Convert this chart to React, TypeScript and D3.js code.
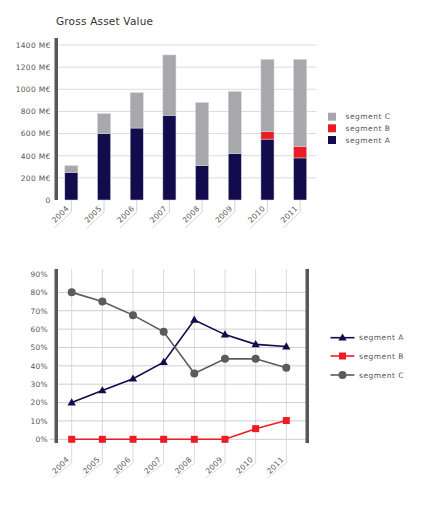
import React from "react";
import * as d3 from "d3";

const years = ["2004", "2005", "2006", "2007", "2008", "2009", "2010", "2011"];
const gavA = [250, 600, 650, 765, 310, 420, 550, 380];
const gavB = [0, 0, 0, 0, 0, 0, 70, 105];
const gavC = [60, 180, 320, 545, 570, 560, 650, 785];
const gavTicks = [0, 200, 400, 600, 800, 1000, 1200, 1400];

const pctA = [20, 26.6, 33, 42, 65, 57, 51.7, 50.5];
const pctB = [0, 0, 0, 0, 0, 0, 5.8, 10.2];
const pctC = [80, 75, 67.6, 58.5, 35.8, 43.8, 43.8, 38.9];
const pctTicks = [0, 10, 20, 30, 40, 50, 60, 70, 80, 90];

const colA = "#120c4c";
const colB = "#ec1c24";
const colCbar = "#a7a8ab";
const colCline = "#5b5b5b";
const axisCol = "#575757";
const textCol = "#555";
const font = "'DejaVu Sans', sans-serif";

export default function App() {
  // top chart
  const xb = d3.scaleBand<string>().domain(years).range([55, 316.5]).paddingInner(0.6).paddingOuter(0.3);
  const yb = d3.scaleLinear().domain([0, 1400]).range([200, 45]);
  const stackData = years.map((y, i) => ({ year: y, A: gavA[i], B: gavB[i], C: gavC[i] }));
  const series = d3.stack<any>().keys(["A", "B", "C"])(stackData);
  const barColors: Record<string, string> = { A: colA, B: colB, C: colCbar };

  // bottom chart
  const xl = d3.scalePoint<string>().domain(years).range([71.7, 286.3]);
  const yl = d3.scaleLinear().domain([0, 90]).range([439.3, 274]);
  const line = d3.line<number>().x((_, i) => xl(years[i])!).y((d) => yl(d));
  const tri = d3.symbol().type(d3.symbolTriangle).size(30)()!;

  const lineSeries = [
    { key: "A", vals: pctA, color: colA, marker: "tri" },
    { key: "B", vals: pctB, color: colB, marker: "sq" },
    { key: "C", vals: pctC, color: colCline, marker: "circ" },
  ];

  const marker = (m: string, color: string, x: number, y: number, k: string) => {
    if (m === "tri") return <path key={k} d={tri} transform={`translate(${x},${y + 0.5})`} fill={color} />;
    if (m === "sq") return <rect key={k} x={x - 3.5} y={y - 3.5} width={7} height={7} fill={color} />;
    return <circle key={k} cx={x} cy={y} r={4} fill={color} />;
  };

  return (
    <svg width={440} height={507} style={{ display: "block", position: "absolute", left: 0, top: 0 }} fontFamily={font}>
      {/* ===== Top chart ===== */}
      <text x={56} y={25} fontSize={10.5} fill="#333" letterSpacing={0.2}>Gross Asset Value</text>
      {gavTicks.map((t) => (
        <g key={t}>
          {t > 0 && <line x1={58} x2={316.5} y1={yb(t)} y2={yb(t)} stroke="#dcdcdc" strokeWidth={1} />}
          <text x={50.5} y={yb(t) + 2.8} fontSize={7.5} fill={textCol} textAnchor="end" letterSpacing={0.3}>
            {t === 0 ? "0" : `${t} M€`}
          </text>
        </g>
      ))}
      {series.map((s) =>
        s.map((d, i) =>
          d[1] - d[0] > 0 ? (
            <rect
              key={s.key + i}
              x={xb(years[i])!}
              y={yb(d[1])}
              width={xb.bandwidth()}
              height={yb(d[0]) - yb(d[1])}
              fill={barColors[s.key]}
              stroke="#d4d4de"
              strokeWidth={0.5}
            />
          ) : null
        )
      )}
      <rect x={54.5} y={38} width={3.5} height={162} fill={axisCol} />
      {years.map((y) => {
        const xc = xb(y)! + xb.bandwidth() / 2;
        return (
          <g key={y}>
            <polyline points={`${xc},200 ${xc},212 ${xc - 17},228`} fill="none" stroke="#c8c8c8" strokeWidth={0.8} />
            <text transform={`translate(${xc - 2},209) rotate(-45)`} fontSize={7.5} fill={textCol} textAnchor="end" letterSpacing={0.3}>
              {y}
            </text>
          </g>
        );
      })}
      {[
        { k: "segment C", c: colCbar, y: 116.7 },
        { k: "segment B", c: colB, y: 128.3 },
        { k: "segment A", c: colA, y: 140 },
      ].map((l) => (
        <g key={l.k}>
          <rect x={328} y={l.y - 4} width={8} height={8} fill={l.c} />
          <text x={345.5} y={l.y + 2.7} fontSize={7.5} fill={textCol} letterSpacing={0.5}>{l.k}</text>
        </g>
      ))}

      {/* ===== Bottom chart ===== */}
      {years.map((y) => {
        const xc = xl(y)!;
        return (
          <g key={y}>
            <polyline points={`${xc},269 ${xc},463 ${xc - 19},478`} fill="none" stroke="#cfcfcf" strokeWidth={0.8} />
            <text transform={`translate(${xc - 2},460) rotate(-45)`} fontSize={7.5} fill={textCol} textAnchor="end" letterSpacing={0.3}>
              {y}
            </text>
          </g>
        );
      })}
      {pctTicks.map((t) => (
        <g key={t}>
          {t < 90 && (
            <line x1={t === 0 ? 50 : 58} x2={306} y1={yl(t)} y2={yl(t)} stroke="#cfcfcf" strokeWidth={1} />
          )}
          <text x={48} y={yl(t) + 2.8} fontSize={7.5} fill={textCol} textAnchor="end" letterSpacing={0.3}>
            {`${t}%`}
          </text>
        </g>
      ))}
      <rect x={54.5} y={269} width={3.5} height={174} fill={axisCol} />
      <rect x={305.5} y={269} width={3.5} height={174} fill={axisCol} />
      {lineSeries.map((s) => (
        <g key={s.key}>
          <path d={line(s.vals)!} fill="none" stroke={s.color} strokeWidth={1.6} />
          {s.vals.map((v, i) => marker(s.marker, s.color, xl(years[i])!, yl(v), s.key + i))}
        </g>
      ))}
      {[
        { k: "segment A", c: colA, m: "tri", y: 337.7 },
        { k: "segment B", c: colB, m: "sq", y: 356 },
        { k: "segment C", c: colCline, m: "circ", y: 375 },
      ].map((l) => (
        <g key={l.k}>
          <line x1={330.5} x2={354.5} y1={l.y} y2={l.y} stroke={l.c} strokeWidth={1.6} />
          {marker(l.m, l.c, 342.5, l.y, l.k + "m")}
          <text x={359} y={l.y + 2.7} fontSize={7.5} fill={textCol} letterSpacing={0.5}>{l.k}</text>
        </g>
      ))}
    </svg>
  );
}
